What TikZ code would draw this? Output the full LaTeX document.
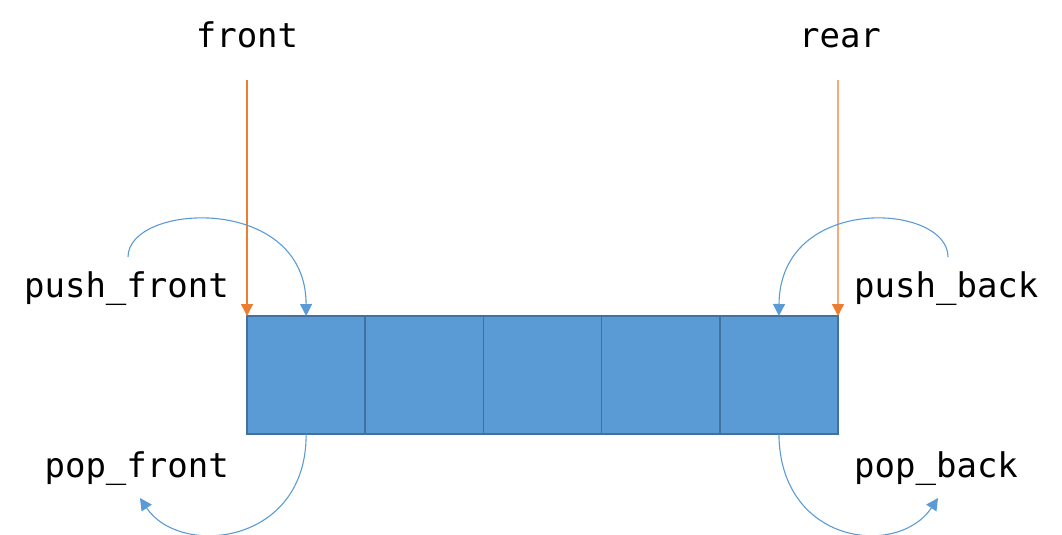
\documentclass[tikz,border=0pt]{standalone}
\usepackage{fontspec}
\setmonofont{DejaVu Sans Mono}
\usetikzlibrary{arrows.meta}
\definecolor{cellfill}{HTML}{5B9BD5}
\definecolor{celldraw}{HTML}{41719C}
\definecolor{orng}{HTML}{ED7D31}
\definecolor{blu}{HTML}{5B9BD5}
\tikzset{
  cell/.style={draw=celldraw, fill=cellfill, line width=1.6pt, minimum width=118.2pt, minimum height=118pt, inner sep=0pt, outer sep=0pt},
  lbl/.style={font=\ttfamily\fontsize{34}{40}\selectfont, inner sep=0pt},
  ptr/.style={draw=orng, line width=1.4pt, -{Triangle[width=12pt,length=12pt]}},
  op/.style={draw=blu, line width=1.1pt, -{Triangle[width=12pt,length=12pt]}}
}
\begin{document}
\begin{tikzpicture}[x=1pt,y=-1pt]
\useasboundingbox (0,0) rectangle (1062,535);
\foreach \i in {1,...,5} {
  \node[cell] (c\i) at ({247+59.1+118.2*(\i-1)},375) {};
}
\node[lbl, anchor=base] (front) at (247,48) {front};
\node[lbl, anchor=base] (rear) at (840,48) {rear};
\node[lbl, anchor=base east] (pushf) at (229,297) {push\_front};
\node[lbl, anchor=base west] (pushb) at (854,297) {push\_back};
\node[lbl, anchor=base east] (popf) at (229,477) {pop\_front};
\node[lbl, anchor=base west] (popb) at (854,477) {pop\_back};
\coordinate (fa) at (247,80);
\coordinate (ra) at (838,80);
\coordinate (pfs) at (128,257);
\coordinate (pbs) at (948,257);
\coordinate (ofe) at (140,498);
\coordinate (obe) at (938,498);
\draw[ptr] (fa) -- (c1.north west);
\draw[ptr] (ra) -- (c5.north east);
\draw[op] (pfs) .. controls (128,203) and (306,193) .. (c1.north);
\draw[op] (pbs) .. controls (948,203) and (780,193) .. (c5.north);
\draw[op] (c1.south) .. controls (307,545) and (180,558) .. (ofe);
\draw[op] (c5.south) .. controls (780,545) and (898,558) .. (obe);
\end{tikzpicture}
\end{document}
